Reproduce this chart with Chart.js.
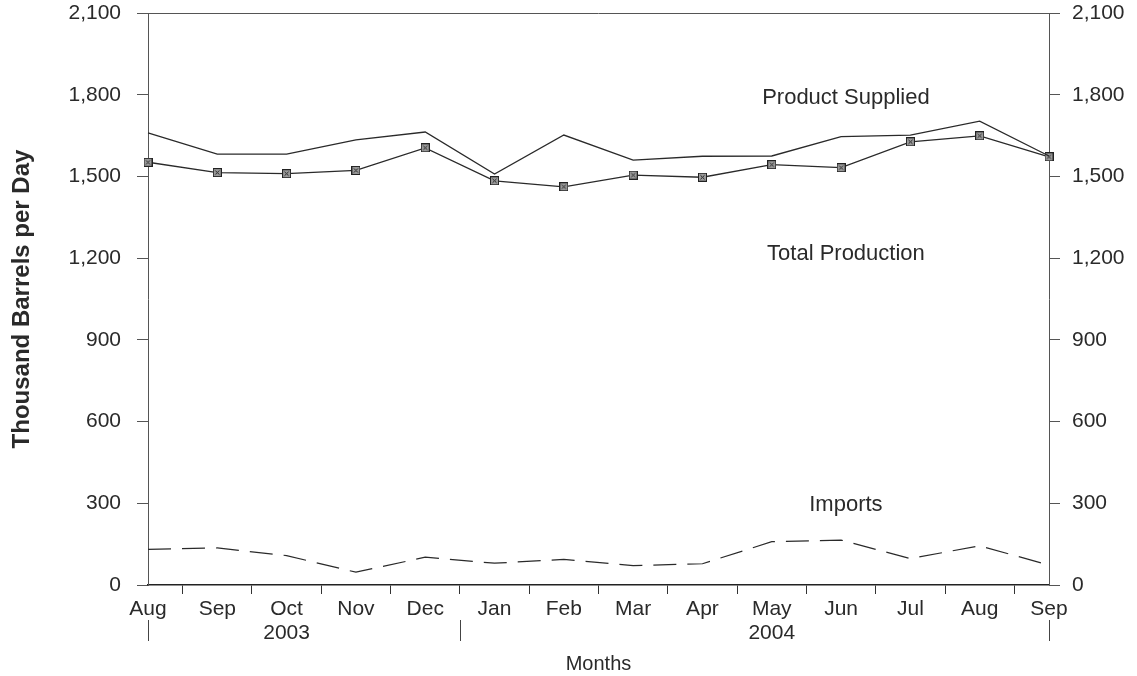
<!DOCTYPE html>
<html>
<head>
<meta charset="utf-8">
<script src="https://cdn.jsdelivr.net/npm/chart.js@4/dist/chart.umd.min.js"></script>
<style>
  html, body { margin: 0; padding: 0; background: #fff; }
  #wrap { width: 1137px; height: 676px; }
</style>
</head>
<body>
<div id="wrap"><canvas id="chart"></canvas></div>
<script>
const months = ["Aug", "Sep", "Oct", "Nov", "Dec", "Jan", "Feb", "Mar", "Apr", "May", "Jun", "Jul", "Aug", "Sep"];
const monthYears = ["2003", "2003", "2003", "2003", "2003", "2004", "2004", "2004", "2004", "2004", "2004", "2004", "2004", "2004"];
const productSupplied = [1660, 1582, 1582, 1634, 1663, 1509, 1652, 1560, 1574, 1575, 1646, 1652, 1703, 1575];
const totalProduction = [1552, 1514, 1510, 1522, 1605, 1484, 1462, 1505, 1497, 1543, 1532, 1627, 1649, 1572];
const imports = [131, 136, 108, 47, 102, 80, 94, 71, 78, 159, 165, 97, 144, 73];
const yTicks = [0, 300, 600, 900, 1200, 1500, 1800, 2100];
const notes = [
  { text: "Product Supplied", x: 10.07, y: 1790 },
  { text: "Total Production", x: 10.07, y: 1215 },
  { text: "Imports", x: 10.07, y: 294 }
];

const FONT = "'Liberation Sans', Arial, sans-serif";
const INK = "#2a2a2a";

// the year under the middle month of each year group
const yearCenters = {};
(function () {
  let start = 0;
  for (let i = 1; i <= monthYears.length; i++) {
    if (i === monthYears.length || monthYears[i] !== monthYears[start]) {
      yearCenters[Math.floor((start + i - 1) / 2)] = monthYears[start];
      start = i;
    }
  }
})();

// boxed marker with a cross inside
const marker = document.createElement("canvas");
marker.width = 9;
marker.height = 9;
(function () {
  const c = marker.getContext("2d");
  c.fillStyle = "#9a9a9a";
  c.fillRect(1, 1, 7, 7);
  c.strokeStyle = "#222";
  c.lineWidth = 1;
  c.strokeRect(0.5, 0.5, 8, 8);
  c.beginPath();
  c.moveTo(2.5, 2.5); c.lineTo(6.5, 6.5);
  c.moveTo(6.5, 2.5); c.lineTo(2.5, 6.5);
  c.stroke();
})();

const extras = {
  id: "extras",
  afterDraw(chart) {
    const ctx = chart.ctx;
    const area = chart.chartArea;
    const xs = chart.scales.x;
    const ys = chart.scales.y;
    ctx.save();
    // top border of the box
    ctx.strokeStyle = "#555";
    ctx.lineWidth = 1;
    ctx.beginPath();
    ctx.moveTo(area.left, Math.round(area.top) + 0.5);
    ctx.lineTo(area.right, Math.round(area.top) + 0.5);
    ctx.stroke();

    // year separators
    const seps = [xs.getPixelForValue(0)];
    for (let i = 1; i < monthYears.length; i++) {
      if (monthYears[i] !== monthYears[i - 1]) {
        seps.push((xs.getPixelForValue(i - 1) + xs.getPixelForValue(i)) / 2);
      }
    }
    seps.push(xs.getPixelForValue(monthYears.length - 1));
    ctx.strokeStyle = "#444";
    seps.forEach((px) => {
      ctx.beginPath();
      ctx.moveTo(Math.round(px) + 0.5, 620);
      ctx.lineTo(Math.round(px) + 0.5, 641);
      ctx.stroke();
    });

    // series notes
    ctx.fillStyle = INK;
    ctx.font = "22px " + FONT;
    ctx.textAlign = "center";
    ctx.textBaseline = "middle";
    notes.forEach((n) => {
      ctx.fillText(n.text, xs.getPixelForValue(n.x), ys.getPixelForValue(n.y));
    });
    ctx.restore();
  }
};

function yAxis(position, width, pad) {
  return {
    type: "linear",
    position: position,
    min: 0,
    max: 2100,
    afterBuildTicks: (scale) => { scale.ticks = yTicks.map((v) => ({ value: v })); },
    afterFit: (scale) => {
      scale.width = width;
      scale.paddingTop = 13; // only half a label over the top, not the side padding too
      scale.paddingBottom = 13;
    },
    border: { display: true, color: "#555", width: 1 },
    grid: { drawOnChartArea: false, drawTicks: true, tickLength: 11, color: "#555" },
    ticks: {
      color: INK,
      padding: pad,
      font: { family: FONT, size: 21 },
      callback: (v) => v.toLocaleString("en-US")
    }
  };
}

const leftAxis = yAxis("left", 148, 16);
leftAxis.title = {
  display: true,
  text: "Thousand Barrels per Day",
  color: INK,
  padding: { top: 8, bottom: 0 },
  font: { family: FONT, size: 24, weight: "bold" }
};
const rightAxis = yAxis("right", 88, 12);

new Chart(document.getElementById("chart"), {
  type: "line",
  data: {
    labels: months,
    datasets: [
      {
        label: "Product Supplied",
        data: productSupplied,
        borderColor: INK,
        borderWidth: 1.3,
        pointRadius: 0,
        tension: 0
      },
      {
        label: "Total Production",
        data: totalProduction,
        borderColor: INK,
        borderWidth: 1.3,
        pointStyle: marker,
        pointRadius: 4,
        tension: 0
      },
      {
        label: "Imports",
        data: imports,
        borderColor: INK,
        borderWidth: 1.2,
        borderDash: [23, 11],
        pointRadius: 0,
        tension: 0
      }
    ]
  },
  options: {
    responsive: true,
    maintainAspectRatio: false,
    animation: false,
    layout: { padding: { top: 0, left: 0, right: 0, bottom: 0 } },
    plugins: {
      legend: { display: false },
      tooltip: { enabled: false }
    },
    scales: {
      x: {
        type: "category",
        offset: false,
        afterFit: (scale) => { scale.height = 91; },
        border: { display: true, color: "#222", width: 1.5 },
        grid: { offset: true, drawOnChartArea: false, drawTicks: true, tickLength: 9, color: "#333" },
        ticks: {
          color: INK,
          padding: 3,
          autoSkip: false,
          maxRotation: 0,
          font: { family: FONT, size: 21, lineHeight: 1.15 },
          callback: (v, i) => (yearCenters[i] ? [months[i], yearCenters[i]] : months[i])
        },
        title: {
          display: true,
          text: "Months",
          color: INK,
          padding: { top: 6, bottom: 0 },
          font: { family: FONT, size: 20 }
        }
      },
      y: leftAxis,
      y2: rightAxis
    }
  },
  plugins: [extras]
});
</script>
</body>
</html>
